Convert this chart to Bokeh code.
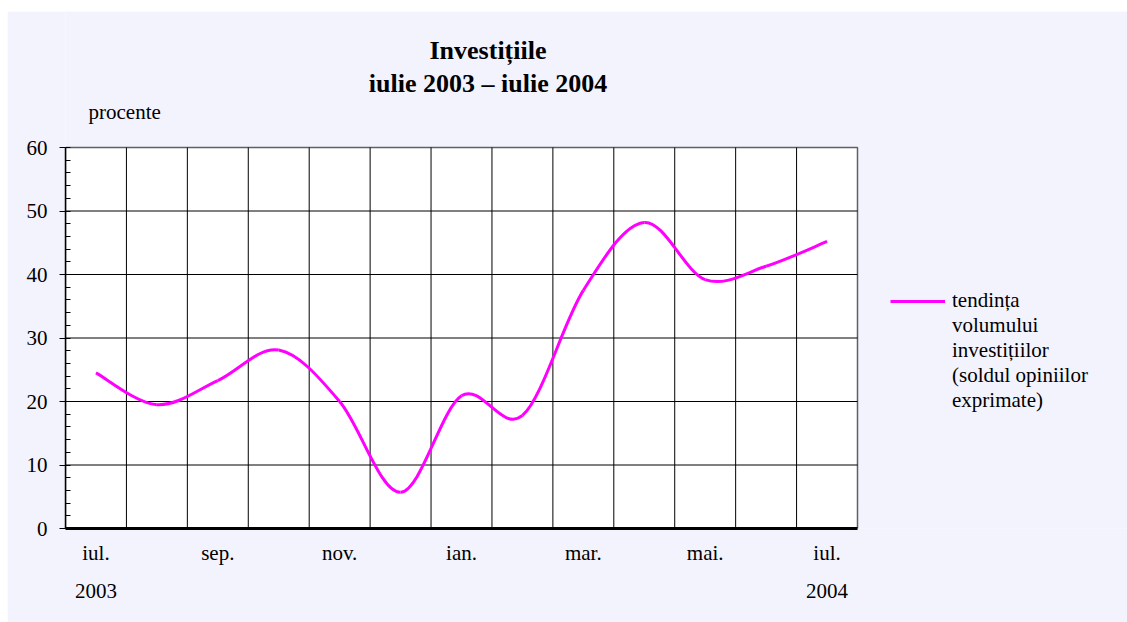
from bokeh.plotting import figure
from bokeh.models import Range1d, FixedTicker, LinearAxis, Label, Legend, LegendItem
from bokeh.embed import file_html
from bokeh.resources import INLINE

# ---- data ----
months = ["iul.", "aug.", "sep.", "oct.", "nov.", "dec.", "ian.",
          "feb.", "mar.", "apr.", "mai.", "iun.", "iul."]
values = [24.5, 19.5, 23.3, 28.1, 20.0, 5.7, 20.9, 17.8, 37.5, 48.2, 39.2, 41.3, 45.2]
shown_month_idx = [0, 2, 4, 6, 8, 10, 12]
year_labels = {0: "2003", 12: "2004"}
y_ticks = [0, 10, 20, 30, 40, 50, 60]
y_minor = list(range(0, 61, 2))
title1 = "Investițiile"
title2 = "iulie 2003 – iulie 2004"
unit = "procente"
legend_lines = ["tendința", "volumului", "investițiilor", "(soldul opiniilor", "exprimate)"]

FONT = "Liberation Serif"
BG = "#F3F3FE"
MAG = "#FF00FF"

n = len(values)
xs = list(range(n))
y_lo, y_hi = y_ticks[0], y_ticks[-1]
x_lo, x_hi = -0.5, n - 0.5

# smoothed line (Excel-like cubic Bezier through the data points)
x0, y0, x1, y1, cx0, cy0, cx1, cy1 = [], [], [], [], [], [], [], []
for i in range(n - 1):
    a = i - 1 if i > 0 else i
    d = i + 2 if i + 2 < n else i + 1
    x0.append(xs[i]); y0.append(values[i])
    x1.append(xs[i + 1]); y1.append(values[i + 1])
    cx0.append(xs[i] + (xs[i + 1] - xs[a]) / 6.0)
    cy0.append(values[i] + (values[i + 1] - values[a]) / 6.0)
    cx1.append(xs[i + 1] - (xs[d] - xs[i]) / 6.0)
    cy1.append(values[i + 1] - (values[d] - values[i]) / 6.0)

# layout (pixels): plot area 792x381, frame extended right/up to hold texts
PW, PH = 792, 381
FW, FH = 1062, 517
ML, MB = 58, 94
x_end = x_lo + (x_hi - x_lo) * FW / PW
y_end = y_lo + (y_hi - y_lo) * FH / PH

p = figure(frame_width=FW, frame_height=FH, output_backend="svg", toolbar_location=None,
           x_range=Range1d(x_lo, x_end), y_range=Range1d(y_lo, y_end),
           min_border_left=ML, min_border_right=0, min_border_top=0, min_border_bottom=MB,
           background_fill_color=BG, border_fill_color=BG)
p.margin = (11, 0, 0, 7)
p.outline_line_color = None
p.xgrid.visible = False
p.ygrid.visible = False

# white plot area
p.quad(left=[x_lo], right=[x_hi], bottom=[y_lo], top=[y_hi], fill_color="white",
       line_color="#606060", line_width=1.5, level="image")

# grid lines limited to the plot area
hy = y_ticks[1:-1]
p.segment(x0=[x_lo] * len(hy), x1=[x_hi] * len(hy), y0=hy, y1=hy,
          line_color="black", line_width=1, level="underlay")
vx = [i + 0.5 for i in range(n - 1)]
p.segment(x0=vx, x1=vx, y0=[y_lo] * len(vx), y1=[y_hi] * len(vx),
          line_color="black", line_width=1, level="underlay")

# x axis (months)
xa = p.xaxis[0]
xa.bounds = (x_lo, x_hi)
xa.ticker = FixedTicker(ticks=shown_month_idx)
xa.major_label_overrides = {i: months[i] for i in shown_month_idx}
xa.major_tick_out = 0
xa.major_tick_in = 0
xa.minor_tick_out = 0
xa.minor_tick_in = 0
xa.axis_line_color = "black"
xa.axis_line_width = 3
xa.major_label_standoff = 12
xa.major_label_text_font = FONT
xa.major_label_text_font_size = "21px"
xa.major_label_text_color = "black"

# second x axis (years)
xa2 = LinearAxis(ticker=FixedTicker(ticks=list(year_labels.keys())),
                 major_label_overrides=year_labels)
xa2.axis_line_color = None
xa2.major_tick_line_color = None
xa2.minor_tick_line_color = None
xa2.major_label_standoff = 10
xa2.major_label_text_font = FONT
xa2.major_label_text_font_size = "21px"
xa2.major_label_text_color = "black"
p.add_layout(xa2, "below")

# y axis
yax = p.yaxis[0]
yax.bounds = (y_lo, y_hi)
yax.ticker = FixedTicker(ticks=y_ticks, minor_ticks=y_minor)
yax.major_tick_out = 6
yax.major_tick_in = 0
yax.minor_tick_out = 0
yax.minor_tick_in = 5
yax.axis_line_color = "black"
yax.axis_line_width = 1.5
yax.major_tick_line_color = "black"
yax.minor_tick_line_color = "black"
yax.major_label_standoff = 12
yax.major_label_text_font = FONT
yax.major_label_text_font_size = "21px"
yax.major_label_text_color = "black"

# curve
curve = p.bezier(x0=x0, y0=y0, x1=x1, y1=y1, cx0=cx0, cy0=cy0, cx1=cx1, cy1=cy1,
                 line_color=MAG, line_width=3)

# legend (first item carries the line, the rest continue the label text)
items = [LegendItem(label=legend_lines[0], renderers=[curve])]
for t in legend_lines[1:]:
    dummy = p.line(x=[], y=[], line_alpha=0)
    items.append(LegendItem(label=t, renderers=[dummy]))
legend = Legend(items=items, location=(PW + 33, 115), border_line_color=None,
                background_fill_alpha=0, padding=10, margin=0, spacing=0,
                label_height=24, glyph_height=24, glyph_width=55, label_standoff=7,
                label_text_font=FONT, label_text_font_size="21px",
                label_text_color="black")
p.add_layout(legend, "center")

# titles and unit label (screen offsets from the frame's bottom-left)
p.add_layout(Label(x=422.5, y=478, x_units="screen", y_units="screen", text=title1,
                   text_align="center", text_baseline="middle", text_font=FONT,
                   text_font_size="26px", text_font_style="bold", text_color="black"))
p.add_layout(Label(x=422.5, y=445, x_units="screen", y_units="screen", text=title2,
                   text_align="center", text_baseline="middle", text_font=FONT,
                   text_font_size="26px", text_font_style="bold", text_color="black"))
p.add_layout(Label(x=23, y=417, x_units="screen", y_units="screen", text=unit,
                   text_align="left", text_baseline="middle", text_font=FONT,
                   text_font_size="21px", text_color="black"))

open("out.html", "w").write(file_html(p, INLINE))
